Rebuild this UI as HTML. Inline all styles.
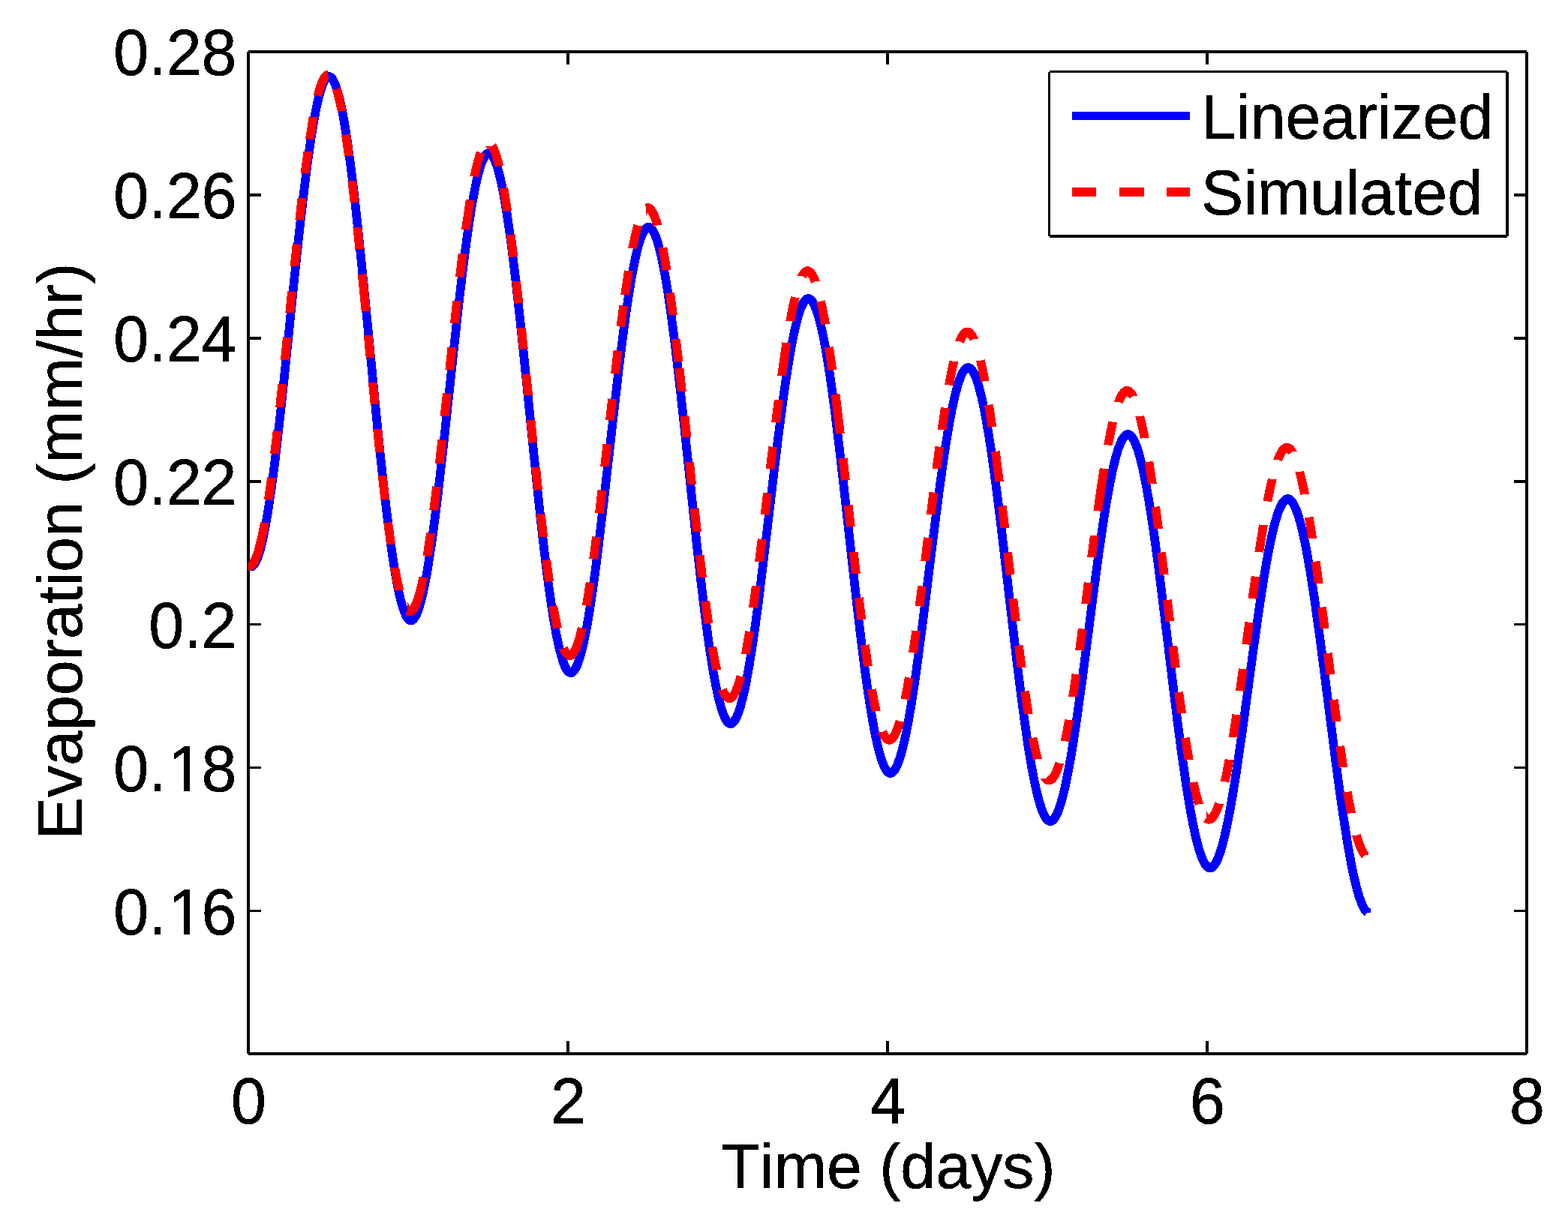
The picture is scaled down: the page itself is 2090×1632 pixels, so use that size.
<!DOCTYPE html>
<html lang="en"><head><meta charset="utf-8"><title>Evaporation: Linearized vs Simulated</title>
<style>
html,body{margin:0;padding:0;background:#fff;}
body{width:2090px;height:1632px;overflow:hidden;}
svg{display:block;}
text{font-family:"Liberation Sans",Arial,Helvetica,sans-serif;font-size:84.375px;fill:#000;font-kerning:none;text-rendering:geometricPrecision;}
</style></head>
<body>
<svg xmlns="http://www.w3.org/2000/svg" width="2090" height="1632" viewBox="0 0 2090 1632">
<rect x="0" y="0" width="2090" height="1632" fill="#fff"/>
<g shape-rendering="crispEdges">
<g stroke="#000" stroke-width="3.5" fill="none">
<path d="M331,69H2035M331,1405H2035M331,69V1405M2035,69V1405"/>
<path d="M757,1405v-17 M757,69v17 M1183,1405v-17 M1183,69v17 M1609,1405v-17 M1609,69v17 M331,1214.57h17 M2035,1214.57h-17 M331,1023.64h17 M2035,1023.64h-17 M331,832.71h17 M2035,832.71h-17 M331,641.79h17 M2035,641.79h-17 M331,450.86h17 M2035,450.86h-17 M331,259.93h17 M2035,259.93h-17"/>
</g>
<path fill="#00f" d="M332.6,761.2 334.4,761.3 336.7,760.9 338.7,760.9 339.9,759.5 342.4,757.3 344.6,754.6 346.4,751.4 348.9,745.8 351.4,738.6 353.1,732.7 356.4,719 359.7,702.1 363.1,682.2 368.3,646.1 372,618 375.8,585.8 383.6,514.6 398.8,365.7 405.2,305.6 412,247 415.1,222.3 418.1,200.5 421.7,176.6 423.5,165.8 426.9,147.2 430.3,132.2 431.9,126.1 433.5,120.7 435.8,114.4 437.2,111.4 438.5,109.3 440.2,112.2 441.4,115 444.1,122.9 447,133.7 450,147 452.9,162.8 456,181.6 459.2,203.4 462.4,227.9 467.5,271.1 474.8,338.7 482.7,418.5 496.8,565 503.2,627.1 509.5,682.9 512.5,706.5 516.1,733.4 519.6,756.4 523,776.2 526.3,792.7 529.7,806.4 531.4,812.1 533.1,817 535.8,823.4 536.9,825.4 538.8,828.2 540.4,830 541.8,831.3 544.1,832.6 545.8,833.1 546.9,833.3 548.9,833.3 551.4,832.6 553.8,831.2 555.8,829.4 557.9,826.5 559.9,823 562.3,817.6 563.9,813 567.1,801.8 568.7,795.4 571.8,780.9 575.1,763.5 578.3,743.4 581.8,720 585.3,693.3 589.1,663.2 596.7,596.6 611.8,456.1 618.1,398.7 621.7,368.9 624.9,342.8 628,319.2 631,298.4 634.6,275.6 636.4,265.3 639.9,247.4 643.2,233.2 644.9,227.2 646.5,222 648.8,216.1 650.2,213.2 651.5,211.2 653.2,214.1 654.4,216.7 657.2,224.3 660,234.5 663,247.3 666,262.6 669,280.6 672.2,301.5 675.5,324.9 680.6,366.2 687.8,430.8 691.7,467.8 709.8,645.9 716.2,705.3 722.4,758.2 725.4,780.8 728.9,806.3 732.4,828.3 735.8,847.2 739.1,863.1 740.9,870.2 744.2,881.8 745.9,886.8 747.6,890.9 749.4,894.5 750.6,896.4 752.5,898.9 754.3,900.6 756.5,902.1 759.2,903 761.1,903.1 763.7,902.6 766.2,901.4 768.3,899.7 770.5,897 772.6,893.7 774.3,890.2 776.7,884 780,873.3 783.2,860.6 784.8,853.1 788,836.6 791.3,817.5 794.7,795.2 798.3,769.8 802,741.1 809.6,677.6 824.8,543.1 831.1,488.3 834.7,459.9 837.9,435 841,412.5 844,392.7 847.6,370.9 849.4,361.1 852.9,344.1 856.2,330.5 857.8,324.9 859.5,319.9 861.7,314.3 863.1,311.7 864.5,309.7 865.7,311.5 867.5,315.1 870.3,322.5 873.2,332.4 876.1,344.6 879.1,359.6 882.2,376.9 885.4,396.9 888.6,419.4 893.8,459 900.9,519.9 904.8,555.3 922.7,724.4 929,780.3 935.3,831 938.1,852.3 941.7,876.4 945.1,897.4 948.5,915.6 951.8,930.9 953.5,937.9 956.7,949.1 958.5,954.1 960.2,958.1 962,961.7 963.1,963.7 965,966.2 966.6,967.9 968.8,969.5 971.2,970.5 973.8,970.9 974.9,970.8 976.6,970.5 979,969.4 981,967.9 983.2,965.6 985.1,962.7 986.9,959.4 989.3,953.6 991.1,948.7 992.7,943.5 995.9,931.2 999.2,916.7 1000.8,908.2 1004.2,889.7 1007.6,868.6 1011.2,844.4 1015,816.7 1022.6,755.6 1037.8,626.9 1044.2,574.7 1050.9,523.8 1054.1,502.4 1057,483.5 1060.6,462.8 1062.4,453.5 1065.9,437.4 1069.2,424.5 1070.9,419.1 1072.5,414.5 1074.7,409.2 1076.1,406.7 1077.4,404.9 1078.8,406.7 1080.6,410.2 1083.4,417.3 1086.2,426.7 1089.2,438.7 1092.3,453.1 1095.4,470 1098.5,489.2 1101.8,510.8 1106.9,548.3 1114,606.6 1121.8,675.2 1135.6,800.1 1141.8,852.7 1147.9,900.5 1150.8,921.1 1154.3,944 1157.7,964 1161,981.5 1164.2,996.2 1165.9,1002.9 1169.2,1014 1170.8,1018.7 1172.5,1022.9 1175.3,1028.5 1177.1,1031.1 1178.5,1032.8 1179.7,1034 1181.1,1035.1 1183.4,1036.3 1186.2,1036.9 1188.9,1036.7 1191.5,1035.7 1193.7,1034.2 1196.1,1031.7 1198.2,1028.8 1200.1,1025.4 1201.8,1021.6 1203.6,1016.9 1205.3,1011.9 1208.5,1000.5 1210.2,993.7 1213.6,978.1 1217,960.2 1220.5,939.8 1224.1,916.4 1227.9,890 1235.6,831.3 1250.8,708.5 1257.2,658.6 1263.9,610.2 1267.1,589.7 1270,571.7 1273.6,552 1275.4,543.1 1278.9,527.7 1282.2,515.4 1283.8,510.4 1285.5,505.9 1286.9,502.5 1288.3,499.7 1289.6,497.8 1290.4,496.8 1291.9,498.8 1293.1,500.9 1295.1,505.3 1296.5,509 1299.4,518.3 1302.4,530 1305.5,543.9 1308.6,560.5 1311.8,579 1315.1,599.8 1320.1,635.4 1327.2,690.8 1348.4,872.7 1354.5,922.2 1360.5,967.1 1363.2,986.2 1366.6,1007.8 1369.9,1027 1373.2,1043.7 1374.8,1051.4 1377.9,1064.6 1381.1,1075.7 1384.3,1084.8 1386.9,1090.4 1389.7,1095 1392.1,1097.7 1394.3,1099.4 1396.7,1100.5 1399.3,1101 1400.4,1101 1402.2,1100.8 1404.7,1099.8 1406.2,1098.8 1407.6,1097.7 1409.9,1095.1 1412,1091.9 1413.9,1088.2 1415.8,1084 1417.6,1079.1 1420.9,1068.3 1422.7,1061.7 1426.2,1046.6 1429.7,1029.5 1433.2,1009.9 1436.9,987.3 1440.7,961.8 1448.5,905.6 1463.8,787.5 1470.2,739.6 1477,693.3 1480.1,673.8 1483.1,656.7 1486.7,637.9 1488.5,629.5 1491.9,614.9 1495.2,603.2 1496.9,598.4 1498.5,594.2 1499.9,591 1501.3,588.5 1502.5,586.7 1503.4,585.7 1504.6,587.1 1505.7,588.9 1507,591.4 1508.4,594.6 1511.4,602.7 1514.4,613.3 1517.5,626.2 1519.1,633.5 1522.3,650.2 1525.5,668.3 1530.3,698.7 1533.7,722.3 1537.3,748.6 1544.3,804.2 1558,916.8 1563.6,962.3 1569.5,1007.2 1574.9,1044.7 1578.1,1064.8 1581.2,1082.9 1584.2,1099.1 1587.2,1113.2 1590.1,1125.4 1593.1,1135.9 1596.1,1144.6 1599.1,1151.6 1601,1155 1602.1,1156.7 1604.5,1159.5 1605.8,1160.7 1607.2,1161.7 1609.7,1162.9 1612.4,1163.4 1613.5,1163.4 1615.4,1163.1 1618.1,1162 1619.7,1160.9 1621.1,1159.7 1623.6,1156.8 1625.8,1153.3 1627.8,1149.3 1629.7,1144.6 1632.6,1136.5 1634.5,1130.2 1638.3,1115.4 1641.8,1099 1645.5,1079.9 1649.3,1058 1653.4,1032.6 1661.4,977.5 1676.8,863.6 1683.3,817.9 1690,773.8 1693.2,755.2 1696.2,738.7 1699.8,720.8 1701.6,712.8 1705,698.9 1708.3,688 1709.9,683.4 1711.5,679.5 1713,676.5 1714.3,674.1 1715.5,672.5 1716.4,671.6 1718.1,673.6 1719.9,676.7 1722.5,682.7 1725.4,690.9 1728.3,701.1 1731.2,713.2 1734.2,727.6 1737.4,744.3 1740.6,763 1745.7,795.7 1752.9,846.4 1756.7,875.9 1774.8,1017.8 1781.1,1064.4 1784.3,1086.6 1790.3,1124.7 1793.8,1144.8 1797.3,1162.6 1799,1170.7 1802.4,1184.5 1805.7,1196.4 1809.1,1205.9 1810.9,1210.2 1812.6,1213.5 1814.5,1216.6 1815.7,1218.3 1817.6,1220.5 1818.9,1221.5 1822.5,1216.7 1826.9,1216.7 1826.9,1210.6 1825.9,1211.6 1825.1,1210.8 1823.5,1208.6 1821.4,1204.6 1818.4,1197.2 1816.9,1192.6 1813.7,1181.3 1810.4,1167.8 1807,1151.6 1801.8,1122.6 1795.9,1084.7 1789.3,1038.2 1783.1,990.6 1768.3,874.2 1760.9,819 1757.3,793.8 1753.8,771.1 1750.5,751.1 1747.3,733.2 1744.1,717.4 1742.6,710.3 1739.5,697.9 1736.5,687.1 1733.4,678.1 1731.7,674 1730,670.5 1728.4,667.6 1726.7,665.2 1724.7,662.9 1723.2,661.5 1721.2,660.3 1719,659.4 1717.1,659.1 1715.3,659.1 1713.5,659.5 1711.1,660.6 1709,662 1707,664 1705.6,665.7 1703.7,668.8 1700.8,674.5 1699,678.9 1697.2,683.9 1693.7,695.6 1690.2,709.9 1686.5,726.8 1683.2,744.3 1678.5,771.7 1675.2,792.8 1668.7,837.3 1649.8,975.7 1645.6,1005.3 1639.8,1043.8 1634.1,1077.5 1630.4,1096.4 1626.9,1112.3 1623.3,1126.6 1619.8,1137.6 1618.1,1141.9 1616.5,1145.4 1614.4,1149.2 1612.9,1150.9 1611.5,1149.3 1609.4,1145.7 1606.9,1139.9 1604.2,1132 1601.4,1122 1598.6,1110.3 1595.7,1096.5 1592.7,1080.6 1589.6,1062.6 1586.5,1042.7 1581.1,1005.5 1575.2,960.6 1569.6,915.2 1555.9,802.6 1548.8,746.8 1545.3,720.5 1540.2,685.8 1537,666.1 1533.8,647.9 1530.5,630.8 1527.2,616.2 1524,604 1520.8,593.8 1519.1,589.5 1517.4,585.7 1515.6,582.3 1513.7,579.3 1511.9,577.2 1510.2,575.6 1508.1,574.3 1505.7,573.4 1503,573.1 1501.2,573.4 1499.3,574 1497.1,575.3 1494.9,577.1 1493.4,578.9 1491.4,581.9 1489.5,585.3 1487.8,589.2 1485.9,594.1 1482.4,605.1 1478.8,618.9 1475.2,635.3 1471.6,654.3 1468.6,671.6 1465.4,691.4 1462.1,713.4 1455.6,760 1436.9,903.9 1432.8,934.1 1427.2,973.2 1421.7,1007.7 1418.2,1027.1 1414.8,1043.8 1413.1,1051.5 1409.7,1064.7 1406.6,1074.9 1405,1079.1 1403.5,1082.6 1401.4,1086.4 1399.9,1088.3 1398.8,1087.2 1397.7,1085.4 1396.5,1083.1 1393.7,1076.2 1390.7,1066.8 1387.7,1055.2 1384.6,1041.1 1381.4,1024.7 1378.1,1005.6 1374.8,984.2 1369.1,943.8 1362.8,894.5 1356.9,844.5 1342.6,721.3 1335.3,661.4 1331.7,633.6 1326.6,597.8 1323.3,576.9 1320.1,558.2 1316.9,541.4 1313.8,527 1310.6,514.7 1307.4,504.5 1305.8,500.3 1304.2,496.6 1302.4,493.2 1300.5,490.3 1298.8,488.1 1297.1,486.6 1295,485.3 1292.6,484.4 1290.7,484.1 1288,484.4 1286.1,485.1 1283.9,486.5 1281.8,488.5 1280.3,490.3 1278.3,493.4 1276.4,497.1 1274.7,501.1 1272.8,506.2 1269.3,517.7 1265.8,532.2 1262.2,549.4 1258.5,569.5 1255.5,587.6 1252.4,608.3 1249.1,631.4 1242.6,680.3 1224,829.7 1220,861 1214.4,901.8 1208.9,937.7 1205.5,957.9 1202.2,975.4 1200.5,983.4 1197.2,997.2 1194.1,1008.1 1191.1,1016.4 1189.7,1019.6 1188.4,1021.9 1187.3,1023.5 1186.8,1024.1 1186.7,1024 1185.7,1022.7 1184.5,1020.6 1183.2,1017.9 1181.7,1014.2 1178.7,1005.1 1175.6,993.2 1172.4,978.9 1169.2,961.7 1165.8,941.9 1162.4,919.2 1156.5,876.2 1150.1,823.5 1144,769.9 1129.5,638.5 1122.1,575.5 1118.5,546.6 1113.4,508.9 1110.1,487.2 1106.9,467.7 1103.7,450.5 1102.1,442.9 1099.1,429.4 1096,418 1092.8,408.8 1091.2,405 1089.6,401.7 1087.8,398.7 1086.5,397 1084.7,395.1 1082.8,393.7 1080.6,392.6 1078.9,392.2 1076.8,392.1 1074.9,392.4 1073,393.1 1070.8,394.6 1068.7,396.7 1067.2,398.5 1065.2,401.8 1063.4,405.6 1061.6,409.8 1059.8,415.2 1056.3,427.2 1052.8,442.4 1049.2,460.4 1045.5,481.4 1042.5,500.4 1039.4,522 1036.1,546.2 1029.6,597.5 1011,754.1 1007,786.9 1001.5,829.2 996,866.6 992.6,887.6 989.4,905.7 987.7,914 984.6,928.2 981.5,939.9 978.5,948.8 977.1,952.3 975.8,955 973.8,958 972.1,955.5 970.8,952.8 969.3,949.4 967.8,945.1 964.7,934.5 961.6,921 958.3,904.6 956.6,895.2 953.2,874.4 949.7,850.5 943.8,805.3 937.3,749.5 931.1,692.4 916.4,553.9 909,487.6 905.4,457.3 900.2,417.6 896.9,395 893.7,374.8 889.1,349.3 886,335.2 882.9,323.6 879.8,314 878.2,310.1 876.6,306.7 874.8,303.6 873.5,301.9 871.7,299.9 869.8,298.4 867.6,297.3 865.8,296.9 863.7,296.8 861.7,297.2 859.8,298 857.6,299.6 855.5,301.8 854.1,303.7 852.1,307.1 850.3,311.1 848.5,315.5 846.7,321.1 843.2,333.8 839.7,349.7 836.1,368.6 832.5,390.6 829.5,410.6 826.3,433.3 823.1,458.2 816.5,512.4 802.1,640 794,710.1 788.5,754.4 783.1,793.3 778.1,825.2 774.9,842.7 771.8,857.7 768.8,869.9 765.8,879.5 764.4,883.4 763,886.4 761.8,888.6 760.8,890.1 759.5,888.2 758.2,885.6 756.8,882.1 755.3,877.8 752.1,866.9 748.9,852.8 745.6,835.9 742.2,815.7 736.9,779.1 731,731.6 724.4,672.8 718.1,612.5 703.4,466.5 695.9,396.7 692.2,364.6 688.7,336.3 685.4,310.9 682.2,288.7 679,269.1 676,252.3 674.4,244.6 671.3,231.2 668.2,220.2 666.7,215.6 664.3,209.9 662.7,206.6 660.8,203.7 658.7,201.3 656.9,199.9 654.6,198.7 652.8,198.3 650.6,198.2 648.6,198.6 646.7,199.5 644.5,201.1 642.4,203.4 641,205.4 639,209 637.2,213.1 635.5,217.8 633.7,223.6 630.2,236.9 626.7,253.5 623.1,273.4 619.5,296.4 616.5,317.3 613.3,341.1 610,367.3 603.5,424.1 585.1,595.1 581.1,630.8 575.5,677.4 570.2,718.2 565.1,751.7 562,770.1 558.9,785.7 555.8,798.6 552.9,808.8 551.5,812.8 550.1,816 548.9,818.5 547.8,820.2 546.8,818.8 545.5,816.2 544,812.6 542.5,808.3 539.3,796.8 536.1,782.3 532.8,764.5 529.4,743.5 524,704.8 518,654.8 511.4,593.2 505.2,530.2 490.3,376.2 482.8,303.1 479.2,269.6 475.7,240 472.3,213.5 469.1,190.3 466,169.8 464.4,160.5 461.4,144.5 458.3,130.5 455.3,119 453.7,114.3 451.4,108.3 449.7,104.9 447.9,101.9 445.8,99.4 444,97.9 441.7,96.7 439.8,96.2 437.6,96.2 435.5,96.6 433.6,97.6 431.3,99.3 429.3,101.7 427.9,103.7 426,107.4 424.2,111.7 422.5,116.6 420.7,122.7 417.2,136.5 413.7,153.7 410.1,174.5 406.5,198.6 403.5,220.5 400.4,245.4 397,273.3 390.5,332.3 372,513.2 367.9,551.5 362.2,601.1 356.8,644.4 353.3,669.1 349.9,690.1 346.6,708.3 343.4,723.1 340.3,734.6 338.8,739.2 336.8,744.3 335.5,746.6 334.1,748.6 333.8,748.8 333.1,748.4 331.8,750 331,750 331,760.9Z"/>
<path fill="#f00" d="M355.5,714 358.7,697 352.8,697 347.1,695.8 344.1,711.3 341.1,724.1 339.7,729.6 338.3,734.3 335.6,741.9 333.7,745.8 332.7,747.4 331.8,748.4 332.9,748.2 331,750.8 331,760.5 333,760.6 334.9,760.3 336.6,759.6 338.8,758.3 340.7,756.5 342,754.9 343.8,752.1 345.5,748.7 347.8,743 349.4,738.3 352.4,727.4ZM362,636.9 356.2,636 351.9,666 357.9,666 363.6,667 367.9,636.9ZM369.6,574.6 363.8,573.8 360.1,605 366,605 371.8,605.7 375.4,574.6ZM376.4,512.2 370.6,511.5 367.2,542.6 373.1,542.6 379,543.3 382.3,512.2ZM382.8,449.9 377,449.2 373.9,480 379.7,480 385.6,480.7 388.7,449.9ZM389.1,388.8 383.2,388.1 380.3,417 386.2,417 392,417.6 395,388.8ZM395.7,325.5 389.9,324.8 386.7,354.8 392.6,354.8 398.4,355.5 401.6,325.5ZM402.5,264.4 396.7,263.6 393.4,292.8 399.2,292.8 405,293.6 408.4,264.4ZM412.3,232 416.3,202.3 410.4,202.3 404.6,201.4 400.6,231.1 406.5,231.1ZM417.6,156.2 411.9,155.1 406.9,185.4 412.8,185.4 418.6,186.4 423.6,156.2ZM437.4,106.9 438.2,105.8 438.1,105.9 437.4,99.8 437.4,93.6 437,93.6 435.2,93.9 433.9,94.3 431.1,96 428.8,98.3 426.5,101.8 424.3,106.1 421.6,113.2 419.8,119.1 417.7,127.4 423.7,127.4 429.3,129.1 431.2,122 433.4,115.1 435.5,110.2ZM444.9,126.9 447.8,139.3 449.9,149.3 455.6,148 461.5,148 457.8,130.2 454.3,116.7 448.6,118.5 442.5,118.5ZM455,179.5 459.2,208.6 465,207.7 470.9,207.7 466.7,178.6 461,179.5ZM478.5,270.2 475.1,240.4 469.3,241.1 463.4,241.1 466.9,271 472.7,270.2ZM470.4,303.1 473.5,332.7 479.3,332 485.2,332 482.1,302.5 476.3,303.1ZM476.8,365.6 481.8,415.5 487.6,414.8 493.5,414.8 488.5,365 482.7,365.6ZM484.8,447.2 487.8,477.6 493.6,477 499.5,477 496.5,446.6 490.7,447.2ZM505.6,539 502.7,509.7 496.8,510.4 491,510.4 493.8,539.6 499.7,539ZM512.1,602.5 508.8,571.6 503,572.3 497.1,572.3 500.3,603.2 506.2,602.5ZM519.2,665.8 515.4,633.7 509.6,634.4 503.8,634.4 507.4,666.6 513.2,665.8ZM511.2,696.6 515.3,726.5 521.1,725.6 527,725.6 522.9,695.8 517.1,696.6ZM520.2,757.1 523.5,774.6 526.6,788.2 532.3,786.7 538.3,786.7 534.9,771.9 531.9,755.9 526.1,757.1ZM565.9,789.3 570.2,769.9 564.3,769.9 558.5,768.5 555.7,781.4 552,795.2 549.5,802.2 548.4,804.7 546.3,808.3 544.9,806 543.2,802.3 543.2,813.8 539.7,818.7 541.5,820.1 543.8,821 545.9,821.4 547.8,821.3 549.9,820.7 552.1,819.5 553.8,818 555.5,816 557.2,813.5 560.2,807.2 563.1,799ZM574,711.2 568.2,710.2 563.5,741.3 569.4,741.3 575.2,742.4 579.9,711.2ZM582,649.1 576.2,648.3 572.2,680.4 578.2,680.4 584,681.2 587.9,649.1ZM589.2,586.8 583.4,586 579.8,618.1 585.7,618.1 591.5,618.9 595.1,586.8ZM595.9,524.6 590.1,523.9 586.7,555 592.6,555 598.5,555.6 601.8,524.6ZM602.4,463.1 596.6,462.4 593.4,493 599.2,493 605.1,493.7 608.3,463.1ZM609.2,401.2 603.4,400.5 600,431 605.9,431 611.7,431.8 615.1,401.2ZM616.6,338.4 610.8,337.6 607,369.2 612.9,369.2 618.7,370 622.5,338.4ZM620.8,265.9 615,305.8 620.9,305.8 626.6,306.7 629.6,286.1 632.6,266.9 626.6,266.9ZM647,203.6 640.6,203.6 635.1,201.5 633,207.9 630.9,215.2 628.8,223.8 626.4,234.9 632.4,234.9 638.1,236.3 642.2,218.5 644.6,210.3ZM652,199.7 654,204 656,209.8 659.6,222.6 665.2,221 671.2,221 668.7,211.2 666.1,202.6 663.5,196.2 660.9,191.2 655.9,194.5 645.8,194.5 649.8,197.8 650.4,197ZM682.2,281.2 677.1,249.8 671.3,250.9 665.4,250.9 670.5,282.2 676.2,281.2ZM674.8,312.9 678.6,343.2 684.4,342.4 690.3,342.4 686.5,312.1 680.7,312.9ZM682.3,375.1 685.7,405 691.5,404.3 697.3,404.3 694,374.4 688.2,375.1ZM689.1,437.2 692.1,466 697.9,465.3 703.8,465.3 700.8,436.5 695,437.2ZM695.4,498.6 698.4,527.6 704.2,527 710.1,527 707.1,498 701.3,498.6ZM716.5,590.4 713.4,559.4 707.6,560.1 701.7,560.1 704.8,591 710.6,590.4ZM723.1,653.2 719.9,622.5 714,623.2 708.2,623.2 711.4,653.9 717.2,653.2ZM730.2,715.5 726.6,684.6 720.8,685.4 714.9,685.4 718.5,716.3 724.3,715.5ZM722.3,746.6 726.4,776.3 732.2,775.4 738.1,775.4 734,745.8 728.2,746.6ZM732.9,816.7 737.3,838.8 743,837.4 749,837.4 745.9,822.4 743,806.8 737.3,808 731.3,808ZM778.2,851.8 781.8,837.5 775.8,837.5 770.1,836 766.9,848.6 764,857.6 761.9,862.8 760.6,865.3 759.3,867.2 757.7,864.7 756.4,861.9 751.1,864.6 744.7,864.6 746.7,869.1 748.6,872.7 750.8,875.7 753.3,878.1 755.6,879.4 757.3,880 759.1,880.2 761.1,880 762.9,879.5 765.2,878.2 767.3,876.3 768.7,874.6 771.6,870 773.2,866.4 775,861.9ZM786.7,776.9 780.9,775.9 775.8,807.2 781.8,807.2 787.5,808.3 792.6,776.9ZM795,715.9 789.2,715.1 785.3,745 791.2,745 797,745.9 800.9,715.9ZM802.4,653.6 796.6,652.9 793,684.1 798.9,684.1 804.7,684.9 808.3,653.6ZM809.4,592.3 803.6,591.6 800.2,621.8 806.1,621.8 811.9,622.5 815.3,592.3ZM816.1,532.2 810.3,531.4 807,560.3 812.9,560.3 818.7,561 822,532.2ZM823.5,467.6 817.7,466.8 814.1,498 820,498 825.8,498.8 829.4,467.6ZM825.3,406.8 821.6,435.4 827.5,435.4 833.3,436.3 837,407.6 831.1,407.6ZM832.1,360.3 827.2,392.9 833.1,392.9 838.9,393.9 843.8,361.3 837.9,361.3ZM850.2,300.5 844.6,298.8 841.1,312.6 837.2,330.9 843.2,330.9 848.9,332.2 852.4,315.5 856.3,300.5ZM863.4,284.1 865,286.5 866.9,290.6 869.2,296.8 870.9,302.3 876.5,300.4 882.6,300.4 880.4,293.1 878.1,286.7 876,282 873.8,278.1 871.3,274.9 868.7,272.7 865.8,271.5 863.2,271.2 861.4,271.4 859.4,272 861.4,277.9 861.4,287.1ZM879.6,342.1 882.7,360.8 888.5,359.7 894.4,359.7 891.7,343.2 889.1,329.2 883.4,330.4 877.4,330.4ZM887.2,390.5 891.2,420.5 897,419.6 902.9,419.6 898.9,389.6 893.1,390.5ZM895.1,452.4 898.7,482.9 904.5,482.1 910.3,482.1 906.8,451.6 901,452.4ZM899.6,491 903.1,522.5 908.9,521.7 914.8,521.7 911.3,490.3 905.5,491ZM906.6,554.8 909.6,583.5 915.4,582.8 921.3,582.8 918.3,554.1 912.5,554.8ZM928,645.5 924.8,615.8 919,616.4 913.1,616.4 916.3,646.2 922.1,645.5ZM934.9,708.6 931.4,677.4 925.6,678.1 919.7,678.1 923.2,709.3 929,708.6ZM942,769.7 938.4,739.5 932.6,740.3 926.7,740.3 930.3,770.5 936.1,769.7ZM934.3,801.8 938.6,832.4 944.4,831.4 950.3,831.4 946,800.9 940.2,801.8ZM958,877.4 955.1,861.6 949.4,862.8 943.4,862.8 946.6,879.9 949.5,894 955.2,892.6 961.2,892.6ZM989.8,914.6 993.4,901.8 987.4,901.8 981.8,900 979.9,906.8 977.3,914.6 974.5,921 972.4,924.4 970.5,921.7 968.4,917.1 963,919.6 956.7,919.6 958.5,924 960.5,928.1 962.4,931.1 964.4,933.6 966.5,935.3 967.9,936.1 970.5,937.1 972.3,937.3 974.1,937.1 976.5,936.3 978.1,935.4 980,933.9 981.8,931.8 983.1,930 984.8,926.9 986.5,923.4ZM999.1,842.1 993.3,841.1 988,871.7 994,871.7 999.7,872.8 1005,842.1ZM1007.8,781.4 1002,780.5 998,810.2 1003.9,810.2 1009.7,811.1 1013.7,781.4ZM1015.7,719 1009.9,718.2 1006.1,748.6 1012,748.6 1017.8,749.4 1021.5,719ZM1022.9,657.6 1017.1,656.9 1013.6,686.3 1019.5,686.3 1025.3,687 1028.8,657.6ZM1030.1,595.8 1024.3,595 1020.8,625.2 1026.7,625.2 1032.5,626 1036,595.8ZM1037.8,533.4 1032,532.6 1028.1,563.4 1034,563.4 1039.8,564.2 1043.7,533.4ZM1042.5,456.4 1036.1,500.9 1042,500.9 1047.8,501.8 1054.2,457.4 1048.3,457.4ZM1059.7,396.5 1054.1,395 1050.8,409.5 1047.3,427.9 1053.3,427.9 1059,429.1 1062.3,412.1 1065.8,396.5ZM1072,356.4 1070.8,357.1 1069.1,358.4 1066.9,360.8 1065.1,363.4 1062.7,367.9 1069.3,367.9 1074.3,371.2 1076.4,368.2 1077.5,369.6 1078.6,371.6 1081.3,377.7 1086.7,375.3 1092.9,375.3 1090.9,369.8 1088.5,365 1085.9,360.8 1083.8,358.5 1081,356.5 1078.1,355.5 1076.1,355.3 1074.8,355.4ZM1090.6,413.5 1094.4,433.4 1100.1,432.2 1106,432.2 1102.8,414.6 1099.8,400.4 1094.1,401.8 1088.1,401.8ZM1099.1,462.9 1103.6,494.1 1109.4,493.2 1115.3,493.2 1110.8,462 1105.1,462.9ZM1107.7,525.5 1114.1,578.9 1119.9,578.1 1125.8,578.1 1119.4,524.7 1113.6,525.5ZM1117.8,611.1 1121.1,640.8 1126.9,640.1 1132.8,640.1 1129.5,610.4 1123.7,611.1ZM1124.8,673.7 1128,702.7 1133.8,702 1139.7,702 1136.5,672.9 1130.7,673.7ZM1146.8,764.6 1143.5,735.5 1137.7,736.2 1131.8,736.2 1135.1,765.4 1140.9,764.6ZM1154.3,826.3 1150.5,796.3 1144.7,797.1 1138.9,797.1 1142.6,827.1 1148.4,826.3ZM1146.9,860.1 1151.1,889.4 1156.9,888.4 1162.9,888.4 1158.6,859.2 1152.8,860.1ZM1157.7,928.1 1162.2,949.7 1167.9,948.3 1173.9,948.3 1170.7,933.5 1167.8,918.2 1162,919.4 1156.1,919.4ZM1202.4,971.9 1205.6,961.8 1199.5,961.8 1193.9,959.8 1192.4,964.7 1189.6,972.3 1187.1,977.5 1185.4,979.9 1183.4,977 1181.5,973.2 1176.3,976 1169.9,976 1171.4,979.6 1173.5,983.7 1175.3,986.6 1177.4,989 1179.4,990.7 1181.4,991.8 1183.7,992.5 1186.4,992.6 1188.8,992 1191,990.9 1192.9,989.4 1195.1,987 1196.9,984.2 1198.7,981 1200.4,977.2ZM1211.8,903.5 1206,902.4 1203.3,917.8 1200.5,932.4 1206.5,932.4 1212.2,933.7 1214.8,920.1 1217.7,903.5ZM1221.1,841.3 1215.4,840.4 1211.1,870.4 1217,870.4 1222.8,871.4 1227,841.3ZM1229,781.5 1223.2,780.7 1219.6,808.2 1225.6,808.2 1231.4,809 1234.9,781.5ZM1236.9,717.1 1231.1,716.3 1227.3,747.6 1233.2,747.6 1239,748.4 1242.8,717.1ZM1244.4,656.5 1238.6,655.7 1234.8,685.8 1240.7,685.8 1246.5,686.6 1250.3,656.5ZM1252.2,595.7 1246.5,594.8 1242.5,624.7 1248.4,624.7 1254.2,625.5 1258.2,595.7ZM1261.2,574.1 1265.7,543.9 1259.8,543.9 1254,542.9 1249.5,573.1 1255.4,573.1ZM1271.3,482 1265.6,480.5 1262.4,495.1 1259,513.2 1264.9,513.2 1270.7,514.4 1273.9,497.6 1277.3,482ZM1289.3,449.3 1291.7,452.6 1292.7,454.7 1297.9,451.8 1304.3,451.8 1302.4,447.6 1300.5,444.2 1299,442.1 1296.9,439.8 1294.9,438.2 1293.1,437.3 1290.6,436.7 1288.5,436.6 1286,437.2 1283.7,438.3 1281.7,439.9 1279.6,442.3 1278.1,444.3 1276.4,447.4 1275.1,450 1272.9,455.3 1279.2,455.3 1284.6,457.9 1286.7,453.2 1288.5,450.3ZM1303.6,492.6 1307,509.3 1312.7,508.1 1318.6,508.1 1315.6,492.4 1312.7,479.4 1307,480.9 1301,480.9ZM1312.1,539.8 1316.6,570 1322.4,569.1 1328.3,569.1 1323.8,538.8 1318.1,539.8ZM1321,602 1326.2,642.8 1332,642 1337.8,642 1332.7,601.2 1326.9,602ZM1330,674.7 1333.5,704.4 1339.3,703.6 1345.2,703.6 1341.7,673.9 1335.9,674.7ZM1337.2,736.6 1340.8,767.2 1346.6,766.4 1352.5,766.4 1348.9,735.8 1343.1,736.6ZM1359.8,827.7 1356.1,797.5 1350.3,798.3 1344.4,798.3 1348,828.4 1353.8,827.7ZM1367.6,889.5 1363.7,860 1357.9,860.8 1352.1,860.8 1355.9,890.3 1361.7,889.5ZM1360.2,921.6 1365,952.7 1370.8,951.7 1376.7,951.7 1371.9,920.6 1366.1,921.6ZM1370.6,983.8 1374.2,1000.7 1377.4,1013.6 1383,1012 1389.1,1012 1385.5,997.7 1382.2,982.4 1376.5,983.8ZM1414.8,1028 1418.3,1017.7 1412.2,1017.7 1406.6,1015.7 1404.7,1021.5 1402.6,1026.7 1400.4,1031.1 1398.8,1033.3 1398.4,1033.8 1397.9,1033.3 1394.2,1038.1 1386.7,1038.1 1388.3,1040.5 1389.8,1042.3 1392.1,1044.3 1393.7,1045.3 1395.8,1046.1 1397.7,1046.4 1399.9,1046.3 1401.8,1045.8 1403.5,1045 1405.5,1043.6 1407.1,1042.1 1408.7,1040.1 1411.7,1035.3ZM1424.9,960.2 1419.2,959 1416.5,973.8 1413.6,988.2 1419.6,988.2 1425.3,989.5 1427.9,976.2 1430.9,960.2ZM1434.5,899.1 1428.7,898.2 1424.2,928.5 1430.2,928.5 1435.9,929.5 1440.4,899.1ZM1442.8,838.5 1437,837.6 1433.1,866.9 1439,866.9 1444.8,867.8 1448.7,838.5ZM1450.7,776.9 1444.9,776 1441.2,805.2 1447.1,805.2 1452.9,806 1456.6,776.9ZM1458.8,714.3 1453,713.5 1449.2,742.9 1455.1,742.9 1460.9,743.7 1464.7,714.3ZM1469.1,682.1 1477.5,625 1471.6,625 1465.8,623.9 1461.8,650 1457.4,681.2 1463.3,681.2ZM1483.3,562.8 1477.6,561.3 1474.5,575.5 1471.1,593.2 1477,593.2 1482.7,594.4 1485.9,578.2 1489.3,562.8ZM1502.3,527.6 1504.1,529.8 1505.2,531.7 1510.1,528.4 1516.8,528.4 1515.1,525.1 1513.3,522.1 1511.7,520 1509.5,517.8 1507.4,516.3 1504.9,515.3 1502.3,515 1500.3,515.2 1498.4,515.8 1496.2,517 1494.7,518.2 1492.6,520.5 1490.1,524 1488.5,527 1487,530.3 1484.9,535.7 1491.2,535.7 1496.5,538.2 1497.7,535.3 1500,530.8 1501.6,528.4ZM1516.2,567.1 1520,585 1525.7,583.7 1531.6,583.7 1528.2,567.1 1525.1,553.8 1519.5,555.4 1513.4,555.4ZM1525.4,615.6 1530.1,645.9 1535.9,644.9 1541.8,644.9 1537.1,614.6 1531.3,615.6ZM1534.3,675.8 1538.3,705.5 1544.1,704.7 1549.9,704.7 1546,674.9 1540.2,675.8ZM1542.2,736.5 1546,767 1551.8,766.2 1557.7,766.2 1553.9,735.7 1548.1,736.5ZM1550,799.9 1553.5,829.2 1559.3,828.4 1565.2,828.4 1561.7,799.1 1555.9,799.9ZM1572.9,890.4 1569.2,860.7 1563.4,861.5 1557.5,861.5 1561.2,891.2 1567,890.4ZM1581,950.9 1577,922 1571.2,922.9 1565.3,922.9 1569.3,951.8 1575,950.9ZM1574,983.8 1578.9,1014.1 1584.7,1013 1590.6,1013 1585.7,982.8 1579.9,983.8ZM1586.6,1052.4 1589.8,1064.8 1592.5,1074.1 1598.1,1072.1 1604.3,1072.1 1601.9,1064.6 1600,1057.7 1596.3,1041.9 1590.6,1043.4 1584.6,1043.4ZM1627.4,1082 1629.3,1077 1631.2,1071.5 1625,1071.5 1619.5,1069.3 1617.5,1074.9 1615.5,1079.7 1613.6,1083.2 1612.7,1084.5 1611.4,1086 1609.8,1084.1 1607.6,1080.2 1607.6,1090.8 1604.2,1095.8 1607.2,1097.7 1608.5,1098.2 1610.3,1098.6 1613.4,1098.4 1615.1,1098 1616.8,1097.1 1619.2,1095.3 1622,1092.1 1624.6,1087.9ZM1638.5,1013.1 1632.7,1011.9 1629.8,1027.3 1626.7,1042.3 1632.7,1042.3 1638.4,1043.7 1641.3,1029.8 1644.4,1013.1ZM1648.2,953.1 1642.4,952.1 1637.8,982.5 1643.7,982.5 1649.5,983.5 1654.1,953.1ZM1656.8,892.1 1651.1,891.2 1646.9,921 1652.8,921 1658.6,921.9 1662.7,892.1ZM1665.2,829.9 1659.4,829 1655.3,859.3 1661.3,859.3 1667.1,860.2 1671.1,829.9ZM1673.6,768.7 1667.8,767.8 1663.6,797.9 1669.5,797.9 1675.3,798.8 1679.5,768.7ZM1678.1,699.4 1672.4,735.9 1678.3,735.9 1684.1,736.9 1689.8,700.4 1683.8,700.4ZM1695.7,639.2 1690,637.7 1686.9,651.4 1683.5,668.4 1689.5,668.4 1695.2,669.6 1698.3,654.1 1701.7,639.2ZM1727.7,599.9 1725.8,596.9 1723.7,594.5 1722,593 1719.8,591.7 1717.9,591 1715.4,590.7 1713.4,590.9 1711.1,591.6 1708.9,592.9 1706.6,594.9 1704.9,596.8 1703.4,599.1 1700.5,604.4 1697.1,612.8 1703.4,612.8 1708.8,615.2 1711,609.9 1712.1,607.7 1714.1,604.5 1715.3,603.3 1716.5,604.6 1717.6,606.1 1722.3,602.4 1729.1,602.4ZM1729.2,640.9 1733.3,659.8 1739.1,658.5 1745,658.5 1741.3,641.1 1738,627.6 1732.3,629.2 1726.3,629.2ZM1738.8,689.7 1743.5,718.7 1749.2,717.6 1755.1,717.6 1750.5,688.6 1744.8,689.7ZM1747.8,748.5 1752,778.4 1757.7,777.5 1763.6,777.5 1759.5,747.6 1753.8,748.5ZM1756.1,809.7 1759.9,839.1 1765.7,838.3 1771.6,838.3 1767.8,808.9 1762,809.7ZM1779.4,899.4 1775.6,870.1 1769.8,871 1763.9,871 1767.7,900.3 1773.5,899.4ZM1787.5,961.9 1783.6,932.1 1777.8,932.9 1771.9,932.9 1775.8,962.7 1781.6,961.9ZM1796.3,1023 1792,994 1786.2,994.9 1780.3,994.9 1784.6,1024 1790.3,1023ZM1789.8,1056 1795.3,1085.3 1801,1084.1 1807,1084.1 1801.5,1054.9 1795.7,1056ZM1803.9,1120.6 1806.8,1129.1 1809.7,1135.9 1811.9,1140.1 1814.8,1144.2 1819.2,1140.1 1823.9,1140.1 1823.9,1136.3 1822.9,1135.1 1821.3,1132.6 1819,1127.8 1816.3,1120.5 1813.7,1112 1808.1,1113.9 1802,1113.9Z"/>
<rect x="1398.5" y="95.5" width="610.5" height="219.5" fill="#fff" stroke="none"/><path d="M1398.5,95.5H2009M1398.5,315H2009M1398.5,95.5V315M2009,95.5V315" fill="none" stroke="#000" stroke-width="3.5"/>
<rect x="1429" y="149" width="157" height="11" fill="#00f"/>
<path fill="#f00" d="M1429,250h32v12h-32zM1492,250h33v12h-33zM1555,250h31v12h-31z"/>
</g>
<defs><filter id="bw" filterUnits="userSpaceOnUse" x="0" y="0" width="2090" height="1632" color-interpolation-filters="sRGB"><feComponentTransfer><feFuncA type="discrete" tableValues="0 1"/></feComponentTransfer></filter></defs>
<g filter="url(#bw)" stroke="#000" stroke-width="0.5">
<text transform="translate(315.5,1245.87) scale(1,1.03)" text-anchor="end">0.<tspan dx="2.5">1</tspan><tspan dx="-2.5">6</tspan></text>
<text transform="translate(315.5,1054.94) scale(1,1.03)" text-anchor="end">0.<tspan dx="2.5">1</tspan><tspan dx="-2.5">8</tspan></text>
<text transform="translate(315.5,864.01) scale(1,1.03)" text-anchor="end">0.2</text>
<text transform="translate(315.5,673.09) scale(1,1.03)" text-anchor="end">0.22</text>
<text transform="translate(315.5,482.16) scale(1,1.03)" text-anchor="end">0.24</text>
<text transform="translate(315.5,291.23) scale(1,1.03)" text-anchor="end">0.26</text>
<text transform="translate(315.5,100.3) scale(1,1.03)" text-anchor="end">0.28</text>
<text transform="translate(331.5,1498) scale(1,1.03)" text-anchor="middle">0</text>
<text transform="translate(757.5,1498) scale(1,1.03)" text-anchor="middle">2</text>
<text transform="translate(1183.5,1498) scale(1,1.03)" text-anchor="middle">4</text>
<text transform="translate(1609.5,1498) scale(1,1.03)" text-anchor="middle">6</text>
<text transform="translate(2035.5,1498) scale(1,1.03)" text-anchor="middle">8</text>
<text x="1184" y="1584" text-anchor="middle">Time (days)</text>
<text transform="translate(109,734.8) rotate(-90)" text-anchor="middle">Evaporation (mm/hr)</text>
<text x="1601" y="185.2">Linearized</text>
<text x="1601" y="286">Simulated</text>
</g>
<path fill="#fff" shape-rendering="crispEdges" d="M228,1237.67h17.4v9.6h-17.4zM253.4,1237.67h15.5v9.6h-15.5z"/>
<path fill="#fff" shape-rendering="crispEdges" d="M228,1046.74h17.4v9.6h-17.4zM253.4,1046.74h15.5v9.6h-15.5z"/>
</svg>
</body></html>
